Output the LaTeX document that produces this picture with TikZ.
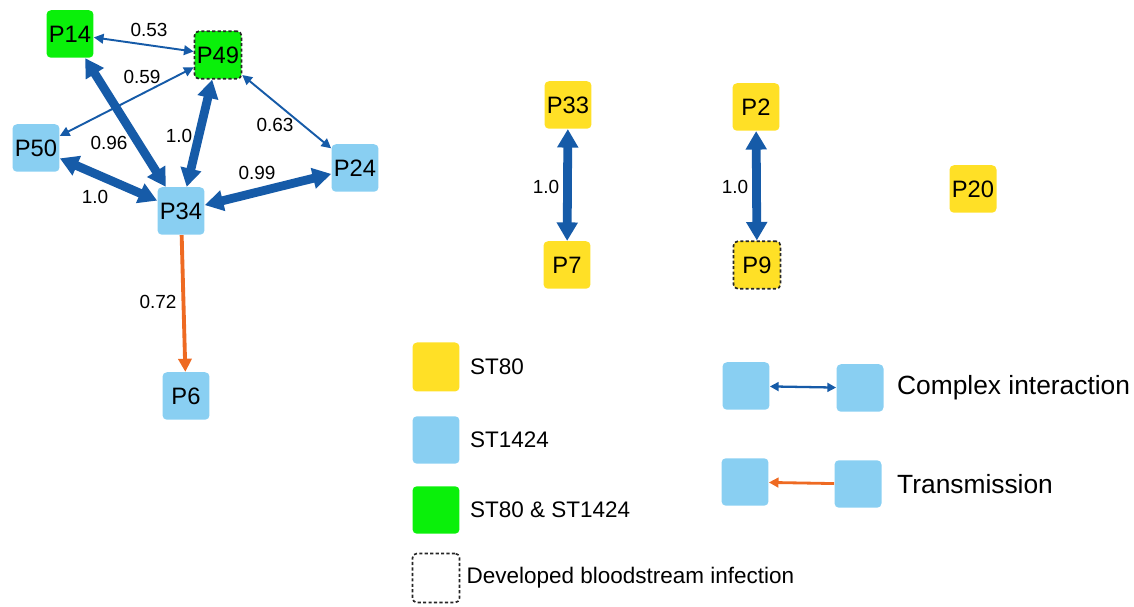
\documentclass[tikz,border=0pt]{standalone}
\usepackage{fontspec}
\setmainfont{Liberation Sans}
\usepackage{xcolor}
\usetikzlibrary{arrows.meta, positioning}

\definecolor{stblue}{RGB}{137,207,242}
\definecolor{styellow}{RGB}{255,224,38}
\definecolor{stgreen}{RGB}{10,240,10}
\definecolor{edgeblue}{RGB}{22,91,168}
\definecolor{edgeorange}{RGB}{238,106,34}

\tikzset{
  pnode/.style={rectangle, rounded corners=2.5pt, minimum width=0.94cm, minimum height=0.95cm,
    inner sep=0pt, font=\fontsize{13.5}{15}\selectfont},
  st80/.style={pnode, fill=styellow},
  st1424/.style={pnode, fill=stblue},
  stboth/.style={pnode, fill=stgreen},
  bsi/.style={draw=black!85, dash pattern=on 1.8pt off 1.3pt, line width=0.95pt},
  weak/.style={edgeblue, line width=1.1pt, {Triangle[length=5.5pt,width=5.5pt]}-{Triangle[length=5.5pt,width=5.5pt]}},
  strong/.style={edgeblue, line width=5pt, {Triangle[length=10.5pt,width=11.5pt]}-{Triangle[length=10.5pt,width=11.5pt]}},
  trans/.style={edgeorange, line width=2.2pt, -{Triangle[length=7.5pt,width=7.5pt]}},
  wlabel/.style={font=\fontsize{10.8}{13}\selectfont, inner sep=0pt},
  keytext/.style={font=\fontsize{12.8}{15}\selectfont, inner sep=0pt, anchor=west},
  keybig/.style={font=\fontsize{15}{18}\selectfont, inner sep=0pt, anchor=west},
}

\begin{document}
\begin{tikzpicture}[x=0.02cm, y=-0.02cm]
        \useasboundingbox (0,0) rectangle (1134,607);
        % cluster
        \node[stboth] (P14) at (70,34) {P14};
        \node[stboth, bsi] (P49) at (218,55) {P49};
        \node[st1424] (P50) at (36,148) {P50};
        \node[st1424] (P34) at (181,211) {P34};
        \node[st1424] (P24) at (355,168) {P24};
        \node[st1424] (P6) at (186,396) {P6};
        \draw[weak] (P14) -- (P49);
        \draw[weak] (P49) -- (P50);
        \draw[weak] (P49) -- (P24);
        \draw[strong] (P14) -- (P34);
        \draw[strong] (P49) -- (P34);
        \draw[strong] (P50) -- (P34);
        \draw[strong] (P24) -- (P34);
        \draw[trans] (P34) -- (P6);
        \node[wlabel] (w1453) at (149,30) {0.53};
        \node[wlabel] (w4950) at (142,77) {0.59};
        \node[wlabel] (w1434) at (109,143) {0.96};
        \node[wlabel] (w4934) at (179,136) {1.0};
        \node[wlabel] (w4924) at (275,125) {0.63};
        \node[wlabel] (w3424) at (257,173) {0.99};
        \node[wlabel] (w5034) at (95,197) {1.0};
        \node[wlabel] (w3406) at (158,302) {0.72};
        % pairs
        \node[st80] (P33) at (568,105) {P33};
        \node[st80] (P7) at (567,265) {P7};
        \node[st80] (P2) at (756,107) {P2};
        \node[st80, bsi] (P9) at (757,265) {P9};
        \node[st80] (P20) at (973,189) {P20};
        \draw[strong] (P33) -- (P7);
        \draw[strong] (P2) -- (P9);
        \node[wlabel] (w3307) at (546,187) {1.0};
        \node[wlabel] (w0209) at (735,187) {1.0};
        % legend
        \node[st80, minimum height=0.98cm] (k80) at (436,367) {};
        \node[st1424] (k1424) at (436,440) {};
        \node[stboth] (kboth) at (436,510) {};
        \node[pnode, bsi, minimum height=0.98cm] (kbsi) at (436,578) {};
        \node[keytext, right=0.2cm of k80] (t80) {ST80};
        \node[keytext, right=0.2cm of k1424] (t1424) {ST1424};
        \node[keytext, right=0.2cm of kboth] (tboth) {ST80 \& ST1424};
        \node[keytext, right=0.12cm of kbsi] (tbsi) {Developed bloodstream infection};
        \node[st1424] (ka1) at (746,386) {};
        \node[st1424] (ka2) at (860,388) {};
        \node[st1424] (kb1) at (745,482) {};
        \node[st1424] (kb2) at (858,484) {};
        \draw[edgeblue, line width=1.3pt, {Triangle[length=5pt,width=5pt]}-{Triangle[length=5pt,width=5pt]}] (ka1) -- (ka2);
        \draw[edgeorange, line width=1.6pt, -{Triangle[length=5.5pt,width=5.5pt]}] (kb2) -- (kb1);
        \node[keybig, right=0.26cm of ka2] (tcomplex) {Complex interaction};
        \node[keybig, right=0.3cm of kb2] (ttrans) {Transmission};
      \end{tikzpicture}
\end{document}
